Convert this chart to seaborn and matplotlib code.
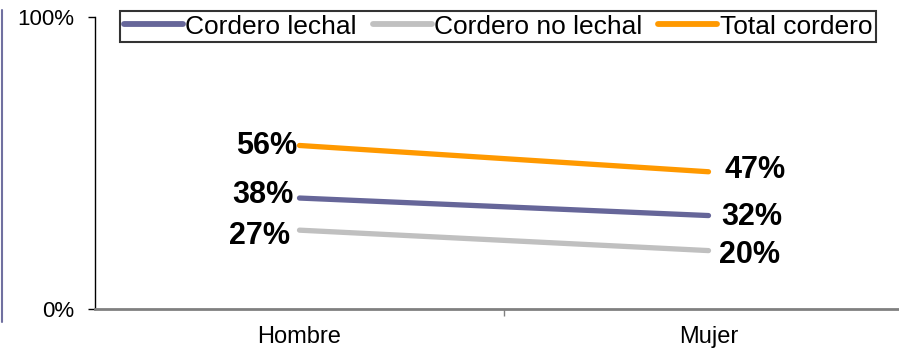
import matplotlib
matplotlib.use("Agg")
import matplotlib.pyplot as plt
import seaborn as sns
import pandas as pd
from matplotlib.lines import Line2D

# Data
categories = ["Hombre", "Mujer"]
series_names = ["Cordero lechal", "Cordero no lechal", "Total cordero"]
lechal = [0.38, 0.32]
no_lechal = [0.27, 0.20]
total = [0.56, 0.47]
ytick_labels = ["0%", "100%"]

colors = {"Cordero lechal": "#666699",
          "Cordero no lechal": "#C0C0C0",
          "Total cordero": "#FF9900"}

rows = []
for name, vals in zip(series_names, [lechal, no_lechal, total]):
    for i, (cat, v) in enumerate(zip(categories, vals)):
        rows.append({"pos": i, "cat": cat, "serie": name, "valor": v})
df = pd.DataFrame(rows)

sns.set_style("white")
plt.rcParams["font.family"] = ["Liberation Sans", "DejaVu Sans"]
plt.rcParams["text.color"] = "black"
plt.rcParams["xtick.color"] = "black"
plt.rcParams["ytick.color"] = "black"
plt.rcParams["axes.labelcolor"] = "black"

W, H = 899, 348
fig = plt.figure(figsize=(W / 100, H / 100), dpi=100)
ax = fig.add_axes([95 / W, (H - 309) / H, (913 - 95) / W, 292 / H])

sns.lineplot(data=df, x="pos", y="valor", hue="serie", hue_order=series_names,
             palette=colors, linewidth=3.8, ax=ax, legend=False,
             solid_capstyle="round")

ax.set_xlim(-0.5, 1.5)
ax.set_ylim(0, 1)

# y axis
ax.set_yticks([0, 1])
ax.set_yticklabels(ytick_labels, fontsize=16)
ax.tick_params(axis="y", direction="out", length=5, width=1, color="black",
               labelcolor="black", left=True, pad=10)

# x axis: separator tick between the categories, labels centred below
ax.set_xticks([0.5])
ax.set_xticklabels([""])
ax.set_xticks([0, 1], minor=True)
ax.set_xticklabels(categories, minor=True, fontsize=17)
ax.tick_params(axis="x", which="major", direction="out", length=5, width=1,
               color="#808080", bottom=True)
ax.tick_params(axis="x", which="minor", length=0, pad=12, labelcolor="black")

ax.set_xlabel("")
ax.set_ylabel("")
for s in ["top", "right"]:
    ax.spines[s].set_visible(False)
ax.spines["left"].set_color("black")
ax.spines["left"].set_linewidth(1)
ax.spines["bottom"].set_color("#808080")
ax.spines["bottom"].set_linewidth(2)
ax.grid(False)

# Value labels (offsets in pixels: dx, dy)
label_offsets = {
    ("Cordero lechal", 0): (-6, 3), ("Cordero lechal", 1): (13, -1),
    ("Cordero no lechal", 0): (-10, -6), ("Cordero no lechal", 1): (11, -4),
    ("Total cordero", 0): (-2, -1), ("Total cordero", 1): (16, 2),
}
px2pt = 72 / 100
for name, vals in zip(series_names, [lechal, no_lechal, total]):
    for i, v in enumerate(vals):
        dx, dy = label_offsets[(name, i)]
        ax.annotate(f"{v * 100:.0f}%", (i, v), xytext=(dx * px2pt, dy * px2pt),
                    textcoords="offset points",
                    ha="right" if i == 0 else "left", va="center",
                    fontsize=22, fontweight="bold", color="black")

# Legend
handles = [Line2D([], [], color=colors[n], linewidth=4.2,
                  solid_capstyle="round") for n in series_names]
leg = fig.legend(handles, series_names, loc="upper left",
                 bbox_to_anchor=(120 / W, 1 - 11 / H), ncol=3,
                 fontsize=19, frameon=True, fancybox=False, handlelength=2.25,
                 handletextpad=0.08, columnspacing=0.6, borderpad=0.14,
                 borderaxespad=0)
leg.get_frame().set_edgecolor("black")
leg.get_frame().set_linewidth(1.5)
for t in leg.get_texts():
    t.set_color("black")

# thin frame remnant on the left edge
fig.add_artist(Line2D([1.5 / W, 1.5 / W], [1 - 10 / H, 1 - 322 / H],
                      color="#7070A0", linewidth=1.5,
                      transform=fig.transFigure))

fig.savefig("out.png", dpi=100)
